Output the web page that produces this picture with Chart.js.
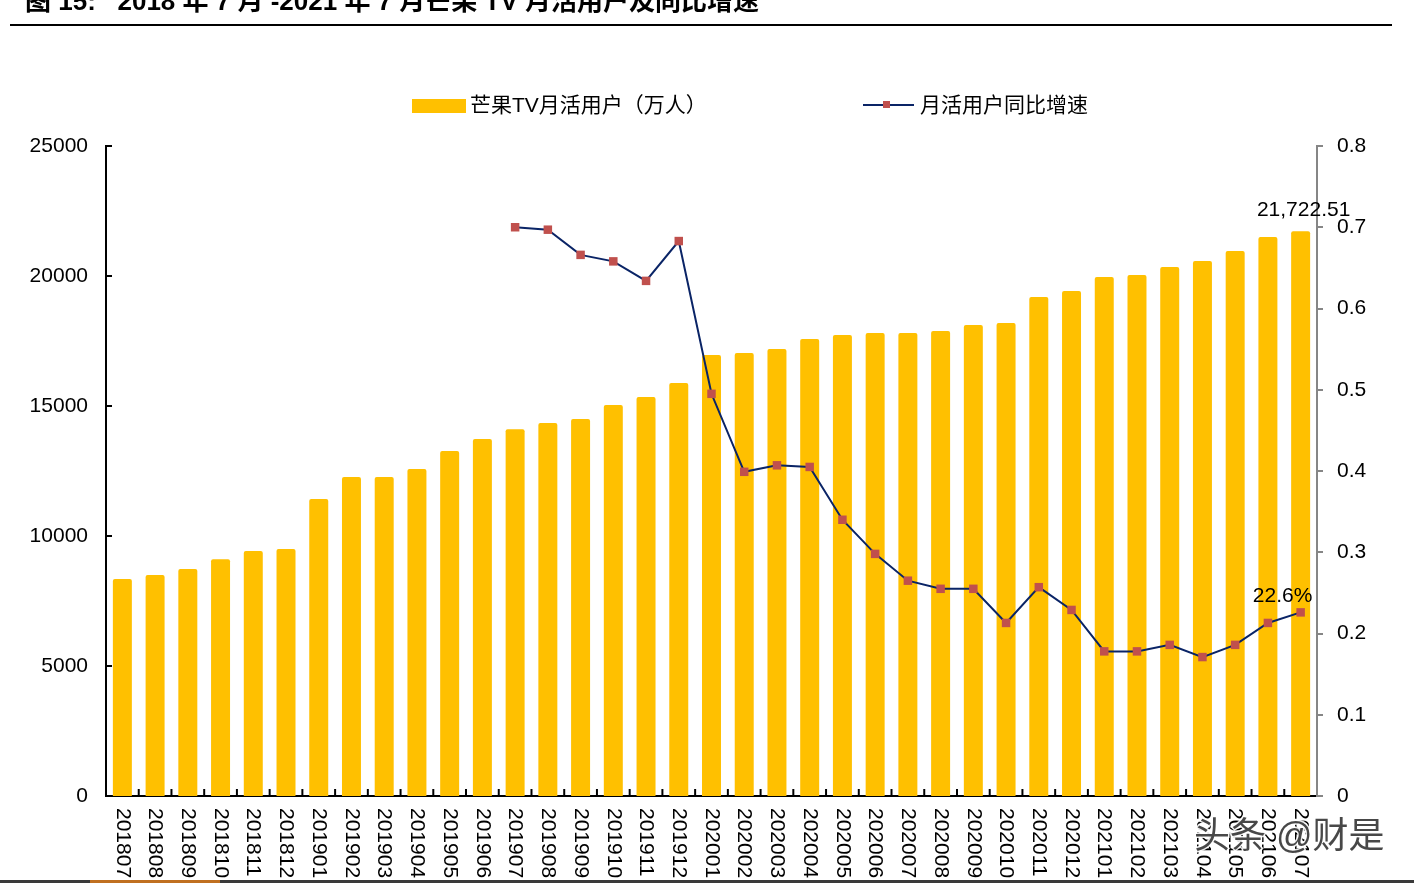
<!DOCTYPE html>
<html lang="zh">
<head>
<meta charset="UTF-8">
<title>芒果TV月活用户及同比增速</title>
<script src="https://cdn.jsdelivr.net/npm/chart.js"></script>
<style>
  html, body { margin: 0; padding: 0; background: #fff; }
  #wrap { width: 1414px; height: 883px; position: relative; }
</style>
</head>
<body>
<div id="wrap"><canvas id="chart" width="1414" height="883"></canvas></div>
<script>
// 月份
const months = [
  '201807','201808','201809','201810','201811','201812',
  '201901','201902','201903','201904','201905','201906',
  '201907','201908','201909','201910','201911','201912',
  '202001','202002','202003','202004','202005','202006',
  '202007','202008','202009','202010','202011','202012',
  '202101','202102','202103','202104','202105','202106','202107'
];
// 芒果TV月活用户（万人）
const mau = [
  8350, 8500, 8730, 9110, 9420, 9500,
  11420, 12270, 12270, 12580, 13270, 13730,
  14110, 14350, 14500, 15040, 15350, 15880,
  16960, 17040, 17190, 17580, 17730, 17810,
  17810, 17880, 18120, 18190, 19190, 19420,
  19960, 20040, 20350, 20580, 20960, 21500, 21722.51
];
// 月活用户同比增速
const growth = [
  null, null, null, null, null, null,
  null, null, null, null, null, null,
  0.700, 0.697, 0.666, 0.658, 0.634, 0.683,
  0.495, 0.399, 0.407, 0.405, 0.340, 0.298,
  0.265, 0.255, 0.255, 0.213, 0.257, 0.229,
  0.178, 0.178, 0.186, 0.171, 0.186, 0.213, 0.226
];
const leftTicks = [0, 5000, 10000, 15000, 20000, 25000];
const rightTicks = [0, 0.1, 0.2, 0.3, 0.4, 0.5, 0.6, 0.7, 0.8];

const FONT = 'Arial, "Liberation Sans", "Noto Sans CJK SC", sans-serif';
const BAR = '#FFC000';
const LINE = '#0A2466';
const MARK = '#C0504D';

const decor = {
  id: 'decor',
  afterDraw(chart) {
    const ctx = chart.ctx;
    const xs = chart.scales.x, yl = chart.scales.y;
    const area = chart.chartArea;
    ctx.save();

    // title (cut at top)
    ctx.fillStyle = '#000';
    ctx.font = 'bold 26px ' + FONT;
    ctx.textBaseline = 'middle';
    ctx.textAlign = 'left';
    ctx.fillText('图 15:   2018 年 7 月 -2021 年 7 月芒果 TV 月活用户及同比增速', 25, 3);
    ctx.fillRect(10, 24, 1382, 2);

    // legend
    ctx.fillStyle = BAR;
    ctx.fillRect(412, 99, 54, 14);
    ctx.fillStyle = '#000';
    ctx.font = '21px ' + FONT;
    ctx.fillText('芒果TV月活用户（万人）', 470, 106);
    ctx.strokeStyle = LINE;
    ctx.lineWidth = 2;
    ctx.beginPath(); ctx.moveTo(863, 105); ctx.lineTo(914, 105); ctx.stroke();
    ctx.fillStyle = MARK;
    ctx.fillRect(883, 101, 7, 7);
    ctx.fillStyle = '#000';
    ctx.fillText('月活用户同比增速', 920, 106);

    // inward ticks on left axis
    ctx.strokeStyle = '#000';
    ctx.lineWidth = 2;
    leftTicks.forEach(v => {
      const y = yl.getPixelForValue(v);
      ctx.beginPath(); ctx.moveTo(area.left, y); ctx.lineTo(area.left + 6, y); ctx.stroke();
    });
    // x ticks between categories, pointing up
    for (let i = 1; i < months.length; i++) {
      const x = (xs.getPixelForValue(i - 1) + xs.getPixelForValue(i)) / 2;
      ctx.beginPath(); ctx.moveTo(x, area.bottom); ctx.lineTo(x, area.bottom - 7); ctx.stroke();
    }

    // rotated x labels
    ctx.fillStyle = '#000';
    ctx.font = '21px ' + FONT;
    ctx.textAlign = 'left';
    ctx.textBaseline = 'middle';
    months.forEach((m, i) => {
      const x = xs.getPixelForValue(i);
      ctx.save();
      ctx.translate(x, area.bottom + 12);
      ctx.rotate(Math.PI / 2);
      ctx.fillText(m, 0, 0);
      ctx.restore();
    });

    // data labels
    const last = months.length - 1;
    const barEl = chart.getDatasetMeta(1).data[last];
    const ptEl = chart.getDatasetMeta(0).data[last];
    ctx.font = '21px ' + FONT;
    ctx.textAlign = 'center';
    ctx.textBaseline = 'bottom';
    ctx.fillText(mau[last].toLocaleString('en-US', {minimumFractionDigits: 2}), barEl.x + 3, barEl.y - 11);
    ctx.fillText((growth[last] * 100).toFixed(1) + '%', ptEl.x - 18, ptEl.y - 6);

    // watermark
    ctx.font = '36px ' + FONT;
    ctx.textAlign = 'left';
    ctx.textBaseline = 'middle';
    ctx.lineWidth = 3;
    ctx.strokeStyle = 'rgba(255,255,255,0.9)';
    ctx.strokeText('头条 @财是', 1194, 838);
    ctx.fillStyle = 'rgba(40,40,40,0.85)';
    ctx.fillText('头条 @财是', 1194, 838);

    // bottom rule
    ctx.fillStyle = '#3a3a3a';
    ctx.fillRect(0, 880, 1414, 3);
    ctx.fillStyle = '#c07020';
    ctx.fillRect(90, 880, 130, 3);
    ctx.restore();
  }
};

new Chart(document.getElementById('chart'), {
  data: {
    labels: months,
    datasets: [
      {
        type: 'line',
        label: '月活用户同比增速',
        data: growth,
        yAxisID: 'y1',
        order: 0,
        borderColor: LINE,
        borderWidth: 2,
        tension: 0,
        pointStyle: 'rect',
        pointRadius: 6,
        pointBackgroundColor: MARK,
        pointBorderColor: MARK,
        pointBorderWidth: 0,
        spanGaps: false
      },
      {
        type: 'bar',
        label: '芒果TV月活用户（万人）',
        data: mau,
        yAxisID: 'y',
        order: 1,
        backgroundColor: BAR,
        borderRadius: 2,
        borderSkipped: 'bottom',
        categoryPercentage: 1,
        barPercentage: 0.58
      }
    ]
  },
  options: {
    responsive: false,
    animation: false,
    layout: { padding: { top: 146, left: 0, right: 0, bottom: 0 } },
    plugins: {
      legend: { display: false },
      title: { display: false },
      tooltip: { enabled: false }
    },
    scales: {
      x: {
        type: 'category',
        offset: true,
        grid: { display: false, drawTicks: false },
        border: { display: true, color: '#000', width: 2 },
        ticks: { display: false },
        afterFit(s) { s.height = 87; }
      },
      y: {
        position: 'left',
        min: 0,
        max: 25000,
        afterBuildTicks(s) { s.ticks = leftTicks.map(v => ({ value: v })); },
        grid: { display: false, drawTicks: false },
        border: { display: true, color: '#000', width: 2 },
        ticks: {
          padding: 18,
          color: '#000',
          font: { family: FONT, size: 21 },
          callback: v => String(v)
        },
        afterFit(s) { s.width = 106; }
      },
      y1: {
        position: 'right',
        min: 0,
        max: 0.8,
        afterBuildTicks(s) { s.ticks = rightTicks.map(v => ({ value: v })); },
        grid: { display: true, drawOnChartArea: false, drawTicks: true, tickLength: 6, color: '#868686', lineWidth: 2 },
        border: { display: true, color: '#868686', width: 2 },
        ticks: {
          padding: 14,
          color: '#000',
          font: { family: FONT, size: 21 },
          callback: v => String(Math.round(v * 10) / 10)
        },
        afterFit(s) { s.width = 97; }
      }
    }
  },
  plugins: [decor]
});
</script>
</body>
</html>
